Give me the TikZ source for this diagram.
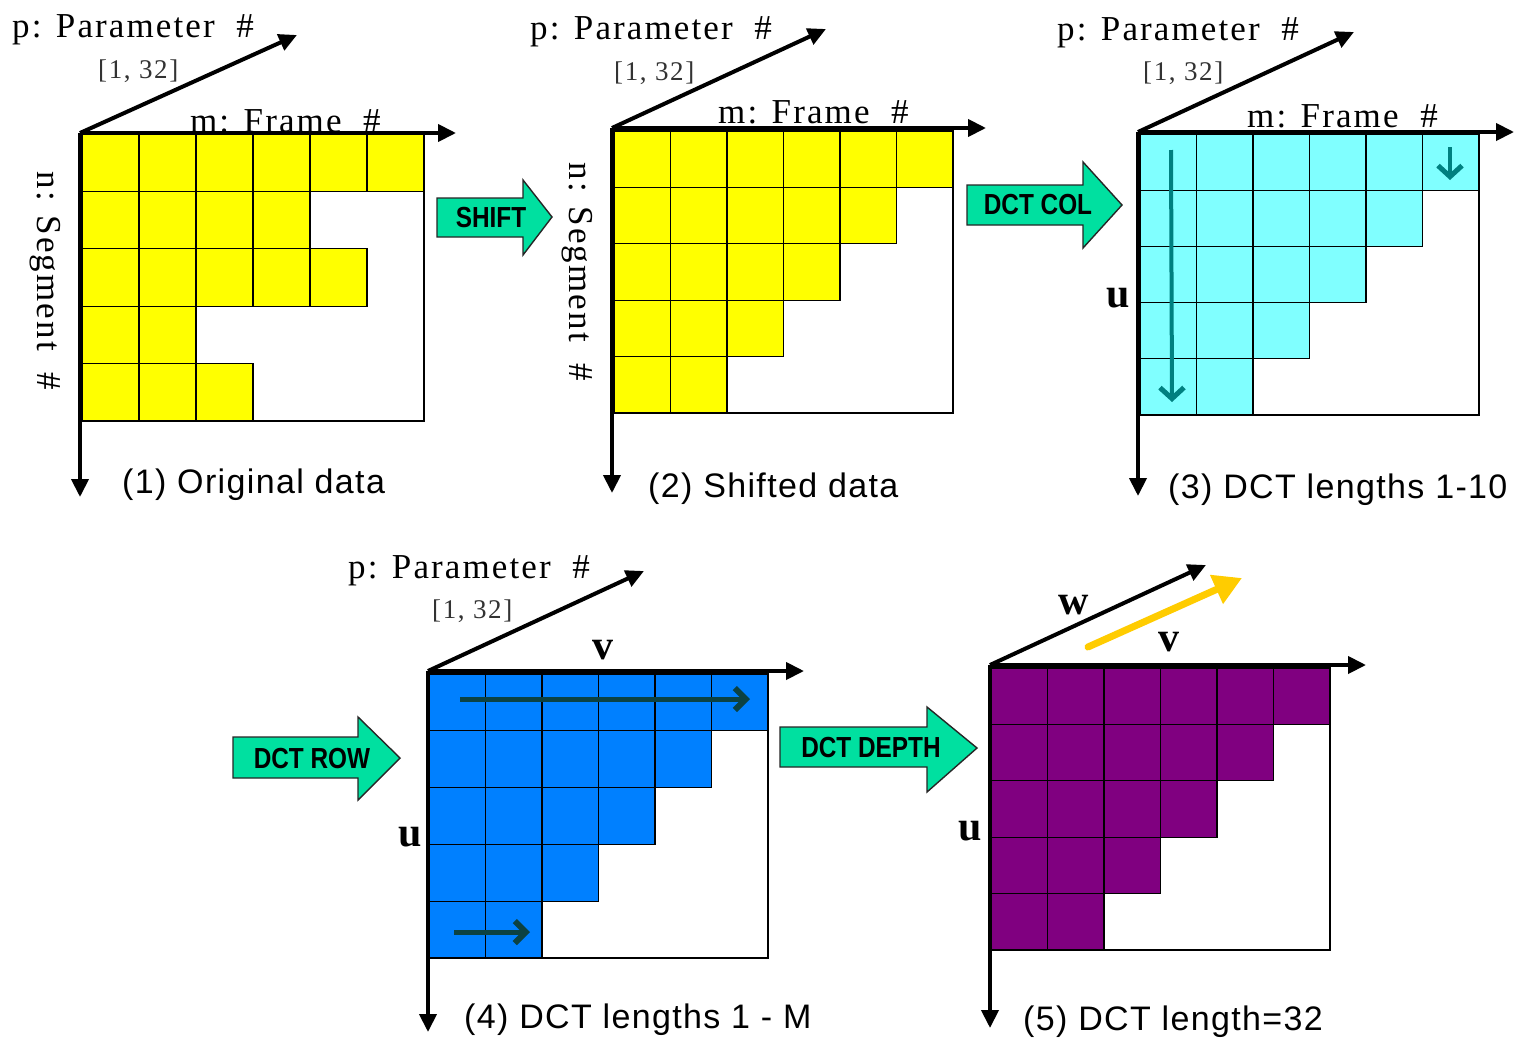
\documentclass[tikz,border=0pt]{standalone}
\usepackage{fontspec}
\setmainfont{Liberation Serif}
\newfontfamily\lblf{Liberation Serif}[LetterSpace=6]
\newfontfamily\capf{Liberation Sans}[LetterSpace=4]
\newfontfamily\btnf{Liberation Sans}
\usetikzlibrary{arrows.meta}

\definecolor{mint}{RGB}{0,224,160}
\definecolor{cellyellow}{RGB}{255,255,0}
\definecolor{cellcyan}{RGB}{128,255,255}
\definecolor{cellblue}{RGB}{0,128,255}
\definecolor{cellpurple}{RGB}{128,0,128}
\definecolor{tealarrow}{RGB}{0,128,128}
\definecolor{darkteal}{RGB}{12,66,66}
\definecolor{gold}{RGB}{255,204,0}

% staircase of cells: x0, y0, cell width, cell height, fill, cells per row
\newcommand\cellgrid[6]{%
  \foreach \c [count=\r from 0] in {#6} {
    \foreach \k in {1,...,\c} {
      \draw[cellbox, fill=#5] ({#1+(\k-1)*#3},{#2+\r*#4}) rectangle ++(#3,#4);
    }
  }
  \draw[cellbox] (#1,#2) rectangle ++({6*#3},{5*#4});
}

\begin{document}
\begin{tikzpicture}[x=1pt, y=-1pt,
  axis/.style={line width=4pt, -{Triangle[length=18pt,width=17pt]}},
  cellbox/.style={draw=black, line width=1.3pt},
  lbl/.style={font=\fontsize{35}{38}\selectfont\lblf, inner sep=0pt, anchor=base west},
  rng/.style={font=\fontsize{27}{29}\selectfont\lblf, text=black!80, inner sep=0pt, anchor=base west},
  stagecap/.style={font=\fontsize{34}{36}\selectfont\capf, inner sep=0pt, anchor=base west},
  var/.style={font=\fontsize{42}{44}\selectfont\bfseries, inner sep=0pt},
  btn/.style={font=\fontsize{29}{30}\selectfont\btnf\bfseries, inner sep=0pt, xscale=0.84},
  blk/.style={draw=black!85, line width=1.4pt, fill=mint, line join=miter},
  sweep/.style={line width=4pt, tealarrow, -{Straight Barb[length=11pt,width=24pt,line width=5pt]}},
  rowsweep/.style={line width=5pt, darkteal, -{Straight Barb[length=11pt,width=22pt,line width=6pt]}}
]
\useasboundingbox[fill=white] (0,0) rectangle (1523,1039);

% ---------- (1) original data ----------
\cellgrid{82}{134}{57}{57.4}{cellyellow}{6,4,5,2,3}
\coordinate (o1) at (80,133);
\coordinate (n1) at (80,497);
\coordinate (m1) at (456,133);
\coordinate (p1) at (297,35);
\draw[axis] (o1) -- (n1);
\draw[axis] (o1) -- (m1);
\draw[axis] (o1) -- (p1);
\node[lbl] (par1) at (12,37) {p: Parameter~~\#};
\node[rng] (rng1) at (98,78) {[1, 32]};
\node[lbl] (frm1) at (190,132) {m: Frame~~\#};
\node[lbl, anchor=center, rotate=-90] (seg1) at (45,281) {n: Segment~~\#};
\node[stagecap] (cap1) at (122,493) {(1) Original data};

% ---------- (2) shifted data ----------
\cellgrid{614}{131}{56.5}{56.4}{cellyellow}{6,5,4,3,2}
\coordinate (o2) at (612,128);
\coordinate (n2) at (612,493);
\coordinate (m2) at (986,128);
\coordinate (p2) at (826,29);
\draw[axis] (o2) -- (n2);
\draw[axis] (o2) -- (m2);
\draw[axis] (o2) -- (p2);
\node[lbl] (par2) at (530,39) {p: Parameter~~\#};
\node[rng] (rng2) at (614,80) {[1, 32]};
\node[lbl] (frm2) at (718,123) {m: Frame~~\#};
\node[lbl, anchor=center, rotate=-90] (seg2) at (577,272) {n: Segment~~\#};
\node[stagecap] (cap2) at (648,497) {(2) Shifted data};

% ---------- (3) DCT along columns ----------
\cellgrid{1140}{134}{56.5}{56.2}{cellcyan}{6,5,4,3,2}
\coordinate (o3) at (1138,132);
\coordinate (n3) at (1138,496);
\coordinate (m3) at (1514,132);
\coordinate (p3) at (1354,32);
\draw[axis] (o3) -- (n3);
\draw[axis] (o3) -- (m3);
\draw[axis] (o3) -- (p3);
\coordinate (c3a) at (1171,150);
\coordinate (c3b) at (1172,402);
\coordinate (c3c) at (1450,147);
\coordinate (c3d) at (1450,180);
\draw[sweep] (c3a) -- (c3b);
\draw[sweep] (c3c) -- (c3d);
\node[lbl] (par3) at (1057,40) {p: Parameter~~\#};
\node[rng] (rng3) at (1143,80) {[1, 32]};
\node[lbl] (frm3) at (1247,127) {m: Frame~~\#};
\node[var] (u3) at (1118,298) {u};
\node[stagecap] (cap3) at (1168,498) {(3) DCT lengths 1-10};

% ---------- (4) DCT along rows ----------
\cellgrid{429}{674}{56.5}{56.8}{cellblue}{6,5,4,3,2}
\coordinate (o4) at (428,671);
\coordinate (n4) at (428,1032);
\coordinate (m4) at (804,671);
\coordinate (p4) at (644,571);
\draw[axis] (o4) -- (n4);
\draw[axis] (o4) -- (m4);
\draw[axis] (o4) -- (p4);
\coordinate (r4a) at (460,699);
\coordinate (r4b) at (750,699);
\coordinate (r4c) at (454,932);
\coordinate (r4d) at (530,932);
\draw[rowsweep] (r4a) -- (r4b);
\draw[rowsweep] (r4c) -- (r4d);
\node[lbl] (par4) at (348,578) {p: Parameter~~\#};
\node[rng] (rng4) at (432,618) {[1, 32]};
\node[var] (v4) at (603,650) {v};
\node[var] (u4) at (410,837) {u};
\node[stagecap] (cap4) at (464,1028) {(4) DCT lengths 1 - M};

% ---------- (5) DCT along depth ----------
\cellgrid{991}{668}{56.5}{56.4}{cellpurple}{6,5,4,3,2}
\coordinate (o5) at (990,665);
\coordinate (n5) at (990,1028);
\coordinate (m5) at (1366,665);
\coordinate (p5) at (1206,565);
\draw[axis] (o5) -- (n5);
\draw[axis] (o5) -- (m5);
\draw[axis] (o5) -- (p5);
\coordinate (y5a) at (1088,647);
\coordinate (y5b) at (1242,578);
\draw[line width=7pt, gold, line cap=round, -{Triangle[length=28pt,width=30pt]}] (y5a) -- (y5b);
\node[var] (w5) at (1074,605) {w};
\node[var] (v5) at (1169,642) {v};
\node[var] (u5) at (970,831) {u};
\node[stagecap] (cap5) at (1023,1030) {(5) DCT length=32};

% ---------- block arrows between the stages ----------
\draw[blk] (437,198) -- (523,198) -- (523,180) -- (552,217) -- (523,255) -- (523,237) -- (437,237) -- cycle;
\node[btn] (shift) at (491,218) {SHIFT};
\draw[blk] (967,185) -- (1083,185) -- (1083,162) -- (1122,205) -- (1083,248) -- (1083,225) -- (967,225) -- cycle;
\node[btn] (dctcol) at (1038,205) {DCT COL};
\draw[blk] (233,737) -- (358,737) -- (358,717) -- (400,758) -- (358,800) -- (358,778) -- (233,778) -- cycle;
\node[btn] (dctrow) at (312,759) {DCT ROW};
\draw[blk] (780,727) -- (927,727) -- (927,707) -- (977,748) -- (927,792) -- (927,767) -- (780,767) -- cycle;
\node[btn] (dctdepth) at (871,748) {DCT DEPTH};
\end{tikzpicture}
\end{document}
